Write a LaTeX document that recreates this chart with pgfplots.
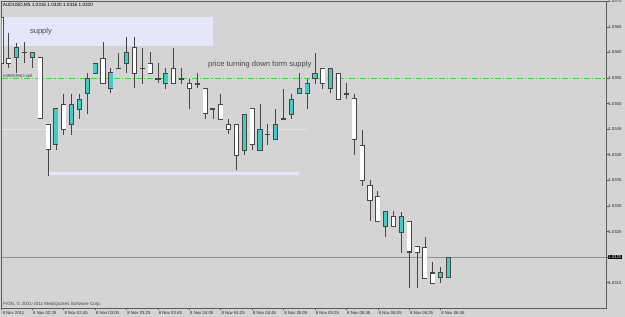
\documentclass[border=0pt]{standalone}
\usepackage{fontspec}
\setmainfont{Liberation Sans}
\usepackage{pgfplots}
\pgfplotsset{compat=1.18}
\usepackage{pgfplotstable}

\definecolor{bg}{RGB}{212,212,212}
\definecolor{frame}{RGB}{90,90,90}
\definecolor{candleline}{RGB}{70,70,70}
\definecolor{bull}{RGB}{64,204,196}
\definecolor{bear}{RGB}{255,255,255}
\definecolor{lav}{RGB}{230,230,250}
\definecolor{lime}{RGB}{70,210,70}
\definecolor{bidline}{RGB}{140,146,162}
\definecolor{faint}{RGB}{228,228,228}
\definecolor{txt}{RGB}{70,70,80}

% i = bar index (M5 bars from 8 Nov 02:05), bot/top = body, l/h = low/high
% rising candles
\pgfplotstableread{
i bot top l h
2 1.0359 1.0361 1.0356 1.0362
4 1.0359 1.0360 1.0357 1.0360
7 1.0342 1.0349 1.0341 1.0349
9 1.0346 1.0350 1.0344 1.0352
10 1.0349 1.0351 1.0347 1.0352
11 1.0352 1.0355 1.0348 1.0356
12 1.0356 1.0358 1.0356 1.0358
14 1.0353 1.0356 1.0352 1.0357
16 1.0358 1.0360 1.0356 1.0363
21 1.0354 1.0356 1.0353 1.0357
31 1.0341 1.0348 1.0340 1.0348
33 1.0341 1.0345 1.0341 1.0350
35 1.0343 1.0346 1.0343 1.0349
37 1.0348 1.0351 1.0347 1.0352
38 1.0352 1.0353 1.0352 1.0356
39 1.0352 1.0354 1.0349 1.0355
40 1.0355 1.0356 1.0354 1.0360
42 1.0353 1.0357 1.0352 1.0357
49 1.0326 1.0329 1.0324 1.0329
51 1.0325 1.0328 1.0321 1.0329
56 1.0316 1.0317 1.0315 1.0318
57 1.0316 1.0320 1.0316 1.0320
}\bullcandles
% falling candles and dojis
\pgfplotstableread{
i bot top l h
0 1.0358 1.0367 1.0358 1.0367
1 1.0358 1.0359 1.0357 1.0364
3 1.0360 1.0360 1.0358 1.0362
5 1.0347 1.0359 1.0347 1.0359
6 1.0341 1.0346 1.0336 1.0346
8 1.0345 1.0350 1.0344 1.0352
13 1.0354 1.0359 1.0354 1.0362
15 1.0357 1.0357 1.0357 1.0360
17 1.0356 1.0361 1.0353 1.0363
18 1.0357 1.0357 1.0354 1.0361
19 1.0356 1.0358 1.0356 1.0360
20 1.0355 1.0355 1.0354 1.0358
22 1.0354 1.0357 1.0354 1.0361
23 1.0355 1.0355 1.0354 1.0357
24 1.0353 1.0354 1.0349 1.0355
25 1.0354 1.0354 1.0353 1.0356
26 1.0348 1.0353 1.0347 1.0353
27 1.0349 1.0349 1.0347 1.0349
28 1.0347 1.0350 1.0347 1.0352
29 1.0345 1.0346 1.0344 1.0347
30 1.0340 1.0346 1.0337 1.0346
32 1.0342 1.0349 1.0341 1.0349
34 1.0344 1.0344 1.0342 1.0346
36 1.0347 1.0347 1.0347 1.0353
41 1.0354 1.0357 1.0353 1.0357
43 1.0351 1.0356 1.0351 1.0356
44 1.0352 1.0352 1.0351 1.0354
45 1.0343 1.0351 1.0340 1.0352
46 1.0335 1.0342 1.0334 1.0345
47 1.0331 1.0334 1.0327 1.0335
48 1.0327 1.0332 1.0327 1.0333
50 1.0326 1.0328 1.0326 1.0329
52 1.0321 1.0327 1.0314 1.0327
53 1.0321 1.0322 1.0314 1.0322
54 1.0316 1.0322 1.0316 1.0324
55 1.0315 1.0317 1.0315 1.0319
}\bearcandles

\pgfplotsset{
  wick/.style={draw=none, error bars/.cd, y dir=both, y explicit, error mark=none,
    error bar style={draw=candleline, line width=0.8bp, solid}},
  bodyout/.style={draw=none, error bars/.cd, y dir=both, y explicit, error mark=none,
    error bar style={draw=candleline, line width=5.1bp, solid}},
  bodyfill/.style={draw=none, error bars/.cd, y dir=both, y explicit, error mark=none,
    error bar style={draw=#1, line width=3.5bp, solid}},
}

\begin{document}
\begin{tikzpicture}
\fill[bg] (0,0) rectangle (625bp,317bp);
\begin{axis}[
  at={(1.7bp,8.7bp)}, anchor=south west,
  scale only axis, width=605bp, height=307bp,
  xmin=0.09, xmax=77.16, ymin=1.0310, ymax=1.0370,
  axis line style={draw=frame, line width=0.8bp},
  tick align=outside, major tick length=2bp,
  tick style={draw=frame, line width=0.6bp},
  xtick pos=lower, ytick pos=upper, yticklabel pos=upper,
  xtick={0.1,4,8,12,16,20,24,28,32,36,40,44,48,52,56},
  xticklabels={8 Nov 2011,8 Nov 02:25,8 Nov 02:45,8 Nov 03:05,8 Nov 03:25,8 Nov 03:45,8 Nov 04:05,8 Nov 04:25,8 Nov 04:45,8 Nov 05:05,8 Nov 05:25,8 Nov 05:45,8 Nov 06:05,8 Nov 06:25,8 Nov 06:45},
  ytick={1.0315,1.0320,1.0325,1.0330,1.0335,1.0340,1.0345,1.0350,1.0355,1.0360,1.0365,1.0370},
  yticklabels={1.0315,1.0320,1.0325,1.0330,1.0335,1.0340,1.0345,1.0350,1.0355,1.0360,1.0365,1.0370},
  ticklabel style={font=\fontsize{4.3}{5}\selectfont, text=black!85},
  xticklabel style={anchor=north west, inner sep=0pt, xshift=0.6bp, yshift=-0.8bp},
  yticklabel style={anchor=west, inner sep=0pt, xshift=-0.6bp},
  clip=true,
]
% supply zone
\addplot[fill=lav, draw=none] coordinates {(0,1.03613) (27,1.03613) (27,1.03670) (0,1.03670)};
% faint level line
\addplot[faint, line width=0.7bp] coordinates {(0.09,1.0345) (39,1.0345)};
% demand line
\addplot[fill=lav, draw=none] coordinates {(6,1.03360) (38,1.03360) (38,1.03367) (6,1.03367)};
% order level
\addplot[lime, line width=0.8bp, dash pattern=on 6bp off 2bp on 1.2bp off 2bp] coordinates {(0.09,1.0355) (77.16,1.0355)};
% bid line
\addplot[bidline, line width=0.8bp] coordinates {(0.09,1.0320) (77.16,1.0320)};
% candles: wicks, body outlines, body fills
\addplot[wick] table[x=i, y expr={(\thisrow{h}+\thisrow{l})/2}, y error expr={(\thisrow{h}-\thisrow{l})/2}] {\bullcandles};
\addplot[wick] table[x=i, y expr={(\thisrow{h}+\thisrow{l})/2}, y error expr={(\thisrow{h}-\thisrow{l})/2}] {\bearcandles};
\addplot[bodyout] table[x=i, y expr={(\thisrow{top}+\thisrow{bot})/2}, y error expr={(\thisrow{top}-\thisrow{bot})/2+0.00001}] {\bullcandles};
\addplot[bodyout] table[x=i, y expr={(\thisrow{top}+\thisrow{bot})/2}, y error expr={(\thisrow{top}-\thisrow{bot})/2+0.00001}] {\bearcandles};
\addplot[bodyfill=bull] table[x=i, y expr={(\thisrow{top}+\thisrow{bot})/2}, y error expr={max(0,(\thisrow{top}-\thisrow{bot})/2-0.00001)}] {\bullcandles};
\addplot[bodyfill=bear] table[x=i, y expr={(\thisrow{top}+\thisrow{bot})/2}, y error expr={max(0,(\thisrow{top}-\thisrow{bot})/2-0.00001)}] {\bearcandles};
\end{axis}
\node[anchor=west, inner sep=0pt, font=\fontsize{4.7}{5}\selectfont] at (2.7bp,312bp) {AUDUSD,M5 1.0316 1.0320 1.0316 1.0320};
\node[anchor=west, inner sep=0pt, text=txt, font=\fontsize{7.5}{8}\selectfont] at (30bp,285bp) {supply};
\node[anchor=west, inner sep=0pt, text=txt, font=\fontsize{7.6}{8}\selectfont] at (208bp,252bp) {price turning down form supply};
\node[anchor=west, inner sep=0pt, text=txt, font=\fontsize{4.3}{5}\selectfont] at (3bp,241.5bp) {\#49953963 sell};
\node[anchor=west, inner sep=0pt, text=txt, font=\fontsize{4.6}{5}\selectfont] at (3bp,13bp) {FIGfx, © 2001-2011 MetaQuotes Software Corp.};
\node[anchor=west, inner sep=0.7bp, fill=black, text=white, font=\fontsize{4.3}{5}\selectfont] at (607.3bp,60bp) {1.0320};
\pgfresetboundingbox
\path[use as bounding box] (0,0) rectangle (625bp,317bp);
\end{tikzpicture}
\end{document}
